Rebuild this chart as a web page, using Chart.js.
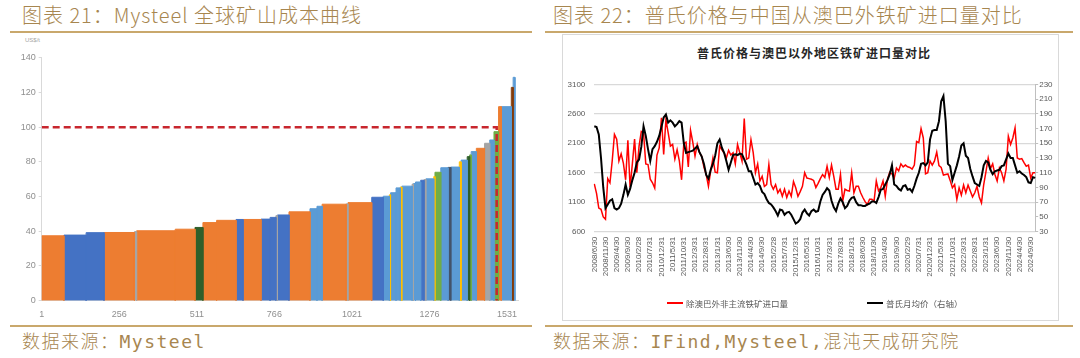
<!DOCTYPE html>
<html>
<head>
<meta charset="utf-8">
<script src="https://cdn.jsdelivr.net/npm/chart.js@4.4.1/dist/chart.umd.min.js"></script>
<style>
  body { margin:0; width:1080px; height:358px; background:#fff; position:relative; overflow:hidden; font-family:"Noto Sans CJK SC", sans-serif; }
  .cap { position:absolute; top:4px; color:#a7864f; font-size:20px; line-height:22px; white-space:nowrap; letter-spacing:1px; font-weight:300; }
  .rule { position:absolute; height:1.5px; background:#c9a86c; }
  .src { position:absolute; top:332px; color:#a7864f; font-size:18px; line-height:20px; white-space:nowrap; letter-spacing:1.5px; font-weight:300;
         font-family:"DejaVu Sans Mono", "Noto Sans CJK SC", monospace; }
  .box { position:absolute; border:1px solid #d9d9d9; box-sizing:border-box; }
  .wrap { position:absolute; }
  .ctitle { position:absolute; font-weight:bold; font-size:12px; line-height:14px; color:#262626; white-space:nowrap; letter-spacing:1px; }
  .leg { position:absolute; font-size:8.5px; line-height:10px; color:#595959; white-space:nowrap; }
  .legline { position:absolute; height:2px; }
  .unit { position:absolute; font-size:6px; color:#a6a6a6; font-family:"Liberation Sans", sans-serif; }
</style>
</head>
<body>
<div class="cap" style="left:22px">图表 21：Mysteel 全球矿山成本曲线</div>
<div class="cap" style="left:553px">图表 22：普氏价格与中国从澳巴外铁矿进口量对比</div>
<div class="rule" style="left:10px;width:522px;top:31px"></div>
<div class="rule" style="left:545px;width:528px;top:31px"></div>
<div class="rule" style="left:10px;width:522px;top:325px"></div>
<div class="rule" style="left:545px;width:528px;top:325px"></div>
<div class="src" style="left:22px">数据来源：Mysteel</div>
<div class="src" style="left:553px">数据来源：IFind,Mysteel,混沌天成研究院</div>

<div class="unit" style="left:25px;top:37px">US$/t</div>
<div class="wrap" style="left:0;top:36px;width:530px;height:290px"><canvas id="costChart"></canvas></div>

<div class="box" style="left:562px;top:34px;width:497px;height:287px"></div>
<div class="ctitle" style="left:697px;top:46px">普氏价格与澳巴以外地区铁矿进口量对比</div>
<div class="wrap" style="left:563px;top:35px;width:496px;height:285px"><canvas id="importChart"></canvas></div>
<div class="legline" style="left:667px;top:302px;width:16px;background:#ff0000"></div>
<div class="leg" style="left:686px;top:298px">除澳巴外非主流铁矿进口量</div>
<div class="legline" style="left:867px;top:302px;width:16px;background:#000"></div>
<div class="leg" style="left:886px;top:298px">普氏月均价（右轴）</div>

<script>
// chart 21: cost curve steps (cumulative mine rank -> US$/t)
const costEdges = [1, 74, 147, 206, 306, 313, 440, 505, 531, 576, 640, 663, 722, 752, 771, 776, 814, 883, 906, 923,
  1002, 1008, 1086, 1124, 1144, 1148, 1166, 1180, 1185, 1219, 1223, 1230, 1247, 1258, 1264, 1290, 1294, 1313, 1337, 1346,
  1374, 1380, 1400, 1408, 1413, 1430, 1457, 1474, 1488, 1503, 1512, 1545, 1551, 1557];
const costValues = [37.4, 37.8, 39.2, 39.3, 39.8, 40.3, 41.2, 42.2, 45.0, 46.3,
  46.8, 46.8, 47.0, 48.0, 49.0, 49.4, 51.2, 53.0, 54.4, 55.6,
  55.8, 56.5, 59.6, 60.2, 61.0, 62.2, 65.0, 65.5, 66.0, 67.2,
  67.5, 68.4, 69.4, 69.8, 70.2, 71.5, 74.0, 76.6, 76.8, 77.0,
  80.0, 81.0, 83.0, 84.0, 85.9, 87.8, 90.7, 92.6, 97.4, 111.8,
  111.8, 122.9, 128.7];
const costGroups = ['O','B','B','O','G','O','O','DG','O','O',
  'B','O','B','B','G','B','O','LB','LB','O',
  'G','O','B','LB','Y','LB','LB','Y','LB','G',
  'LB','LB','B','G','LB','Y','Gn','LB','DB','LB',
  'Y','LB','DG','Gn','LB','O','G','LB','Gn','O',
  'LB','BR','LB'];
const costTicks = [1, 256, 511, 766, 1021, 1276, 1531];
const breakEvenPrice = 100;
const breakEvenRank = 1497;

// chart 22: monthly, 2008/6 .. 2024/11
const importVolume = [
  1410, 1250, 1000, 980, 850, 810, 1500,
  1430, 1800, 2250, 2170, 1800, 1920, 1760, 1480, 2150, 1350, 1750, 2170,
  1600, 2050, 2300, 2280, 1750, 1740, 1490, 1430, 1340, 1900, 2020, 2530,
  1910, 2500, 2280, 2050, 2080, 1830, 1990, 1800, 1480, 2100, 2120, 1700,
  2320, 2120, 1880, 2080, 1940, 1880, 1690, 1570, 1370, 1630, 1850, 1610,
  1600, 2050, 1990, 1940, 1850, 1980, 1900, 1940, 1750, 2080, 1940, 1800,
  2520, 1830, 1850, 2160, 1940, 1600, 1750, 1460, 1540, 1370, 1400, 1740,
  1400, 1320, 1400, 1260, 1320, 1200, 1320, 1180, 1290, 1200, 1450, 1345,
  1200, 1280, 1370, 1600, 1510, 1500, 1490, 1470, 1350, 1420, 1500, 1570,
  1520, 1710, 1520, 1730, 1540, 1320, 1320, 1570, 1120, 1320, 1300, 1290,
  1600, 1260, 1370, 1370, 1260, 1180, 1110, 1060, 1150, 1150, 1120, 1460,
  1290, 1345, 1460, 1200, 1490, 1610, 1580, 1510, 1680, 1630, 1750, 1700,
  1730, 1700, 1690, 1660, 1730, 2130, 2110, 2350, 2190, 1580, 1600, 1800,
  1730, 1800, 1950, 1720, 1690, 1560, 1570, 1580, 1470, 1345, 1400, 1150,
  1345, 1220, 1390, 1260, 1390, 1290, 1190, 1260, 1370, 1190, 1090, 1400,
  1620, 1850, 1670, 1750, 1570, 1460, 1680, 1600, 1460, 1660, 2220, 2080,
  2190, 2360, 1850, 1830, 1840, 1770, 1710, 1730, 1510, 1600, 1600
];
const plattsPrice = [
  173, 172, 162, 130, 90, 62, 67,
  72, 74, 62, 60, 62, 68, 80, 94, 80, 88, 100, 110,
  124, 128, 145, 173, 160, 142, 126, 142, 146, 152, 160, 172,
  185, 189, 178, 181, 178, 173, 176, 180, 178, 150, 137, 138,
  139, 140, 143, 146, 138, 132, 122, 107, 102, 114, 122, 133,
  150, 155, 144, 137, 126, 114, 124, 134, 135, 134, 136, 135,
  128, 121, 112, 112, 103, 94, 96, 92, 84, 81, 74, 69,
  67, 63, 58, 52, 60, 59, 53, 56, 57, 53, 47, 41,
  43, 47, 56, 60, 55, 52, 58, 60, 57, 58, 71, 80,
  84, 89, 86, 72, 63, 58, 68, 75, 70, 62, 65, 72,
  76, 77, 70, 66, 66, 65, 65, 67, 68, 71, 71, 69,
  77, 87, 88, 94, 100, 108, 120, 94, 92, 88, 86, 92,
  93, 87, 88, 84, 92, 102, 110, 122, 123, 120, 124, 155,
  167, 168, 168, 180, 207, 214, 180, 122, 119, 100, 110, 120,
  132, 147, 150, 133, 130, 115, 105, 96, 94, 92, 104, 120,
  126, 124, 114, 108, 112, 113, 114, 119, 120, 128, 136, 130,
  130, 120, 110, 112, 109, 107, 104, 97, 96, 104, 103
];
const monthLabels = [];
for (let y = 2008, m = 6; monthLabels.length < importVolume.length; ) {
  monthLabels.push(y + '/' + m + '/' + new Date(y, m, 0).getDate());
  m++;
  if (m > 12) { m = 1; y++; }
}

const groupColors = {
  O: '#ED7D31', B: '#4472C4', LB: '#5B9BD5', G: '#A5A5A5', Y: '#FFC000',
  DG: '#2F5F2A', Gn: '#70AD47', DB: '#44546A', BR: '#843C0C'
};

Chart.defaults.font.family = "'Liberation Sans', 'Noto Sans CJK SC', sans-serif";
Chart.defaults.animation = false;

const plain = v => String(v);

// each step is a closed block so its outline hides the seams between fills
const stepSets = costValues.map((v, i) => ({
  data: [
    { x: costEdges[i], y: 0 }, { x: costEdges[i], y: v },
    { x: costEdges[i + 1], y: v }, { x: costEdges[i + 1], y: 0 }
  ],
  backgroundColor: groupColors[costGroups[i]],
  borderColor: groupColors[costGroups[i]],
  borderWidth: 1,
  pointRadius: 0,
  fill: 'origin',
  order: 1
}));

new Chart(document.getElementById('costChart'), {
  type: 'line',
  data: {
    datasets: [{
      data: [{ x: costEdges[0], y: breakEvenPrice }, { x: breakEvenRank, y: breakEvenPrice }, { x: breakEvenRank, y: 0 }],
      borderColor: '#C8262E',
      borderWidth: 2.5,
      borderDash: [7, 4],
      pointRadius: 0,
      fill: false,
      order: 0
    }].concat(stepSets)
  },
  options: {
    responsive: true,
    maintainAspectRatio: false,
    layout: { padding: { top: 21.7, right: 12, bottom: 0, left: 0 } },
    plugins: { legend: { display: false }, tooltip: { enabled: false } },
    scales: {
      x: {
        type: 'linear',
        min: 1,
        max: 1567,
        afterBuildTicks: s => { s.ticks = costTicks.map(v => ({ value: v })); },
        afterFit: s => { s.height = 25.3; },
        grid: { display: false, drawTicks: false },
        border: { display: true, color: '#d9d9d9' },
        ticks: { color: '#8f8f8f', font: { size: 9 }, padding: 8, maxRotation: 0, callback: plain }
      },
      y: {
        min: 0,
        max: 140,
        afterFit: s => { s.width = 41.7; },
        grid: { drawOnChartArea: false, color: '#d9d9d9', tickLength: 3 },
        border: { display: true, color: '#d9d9d9' },
        ticks: { stepSize: 20, color: '#8f8f8f', font: { size: 9 }, padding: 3, callback: plain }
      }
    }
  }
});

new Chart(document.getElementById('importChart'), {
  type: 'line',
  data: {
    labels: monthLabels,
    datasets: [
      {
        label: '除澳巴外非主流铁矿进口量',
        data: importVolume,
        yAxisID: 'y',
        borderColor: '#ff0000',
        borderWidth: 1.5,
        pointRadius: 0,
        tension: 0,
        order: 2
      },
      {
        label: '普氏月均价（右轴）',
        data: plattsPrice,
        yAxisID: 'y1',
        borderColor: '#000000',
        borderWidth: 2,
        pointRadius: 0,
        tension: 0,
        order: 1
      }
    ]
  },
  options: {
    responsive: true,
    maintainAspectRatio: false,
    layout: { padding: { top: 49.3, right: 0, bottom: 0, left: 0 } },
    plugins: { legend: { display: false }, tooltip: { enabled: false } },
    scales: {
      x: {
        offset: false,
        afterFit: s => { s.height = 88.3; },
        grid: { display: false, drawTicks: false },
        border: { display: false },
        ticks: {
          autoSkip: false,
          maxRotation: 90,
          minRotation: 90,
          padding: 5,
          color: '#595959',
          font: { size: 8 },
          callback: (v, i) => (i % 5 === 0 ? monthLabels[i] : '')
        }
      },
      y: {
        position: 'left',
        min: 600,
        max: 3100,
        afterFit: s => { s.width = 31.3; },
        grid: { color: '#d9d9d9', lineWidth: 1.3, drawTicks: false },
        border: { display: false },
        ticks: { stepSize: 500, color: '#595959', font: { size: 8 }, padding: 9, callback: plain }
      },
      y1: {
        position: 'right',
        min: 30,
        max: 230,
        afterFit: s => { s.width = 23.8; },
        grid: { drawOnChartArea: false, color: '#bfbfbf', tickLength: 3 },
        border: { display: true, color: '#bfbfbf' },
        ticks: { stepSize: 20, color: '#595959', font: { size: 8 }, padding: 1, callback: plain }
      }
    }
  }
});
</script>
</body>
</html>
